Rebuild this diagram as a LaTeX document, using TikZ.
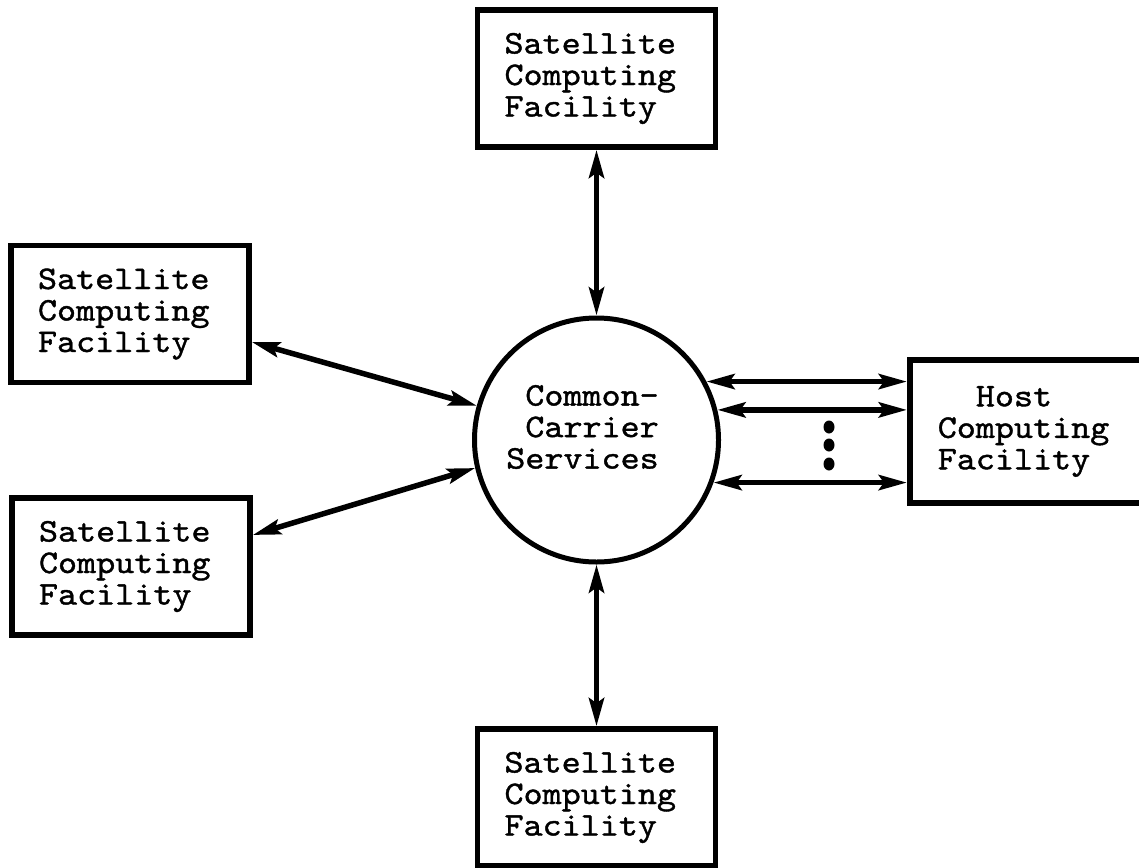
\documentclass[tikz,border=0pt]{standalone}
\usepackage{fontspec}
\newfontfamily\tw{lmmono10-regular}[Extension=.otf, FakeStretch=1.1, FakeBold=1.2]
\usetikzlibrary{arrows.meta, calc}

\begin{document}
\begin{tikzpicture}[x=1pt, y=-1pt,
  lbl/.style={font=\tw\fontsize{33}{31.5}\selectfont},
  satbox/.style={draw, line width=5.5pt, rectangle, inner sep=0pt, lbl,
    align=left, text width=184pt, minimum width=238pt, minimum height=137pt},
  hub/.style={draw, line width=5pt, circle, minimum size=244pt, inner sep=0pt},
  tip/.tip={Stealth[length=28pt, width=15pt, inset=5pt]},
  conn/.style={line width=5.5pt, tip-tip}
]
\useasboundingbox (0,0) rectangle (1139,867);
\clip (0,0) rectangle (1139,867);

% central carrier
\node[hub] (cc) at (596.5,440) {};
\node[lbl, align=right, xshift=-14pt, yshift=13pt] (cctext) at (cc.center)
  {Common-\\Carrier\\Services};

% satellite facilities
\node[satbox] (top) at (596.5,78.5) {Satellite\\Computing\\Facility};
\node[satbox] (bot) at (596.5,797.5) {Satellite\\Computing\\Facility};
\node[satbox] (ul)  at (130,314)    {Satellite\\Computing\\Facility};
\node[satbox] (ll)  at (131,566.5)  {Satellite\\Computing\\Facility};

% host facility (runs off the right edge)
\node[draw, line width=5.5pt, rectangle, lbl, anchor=west, align=left,
      text width=230pt, inner xsep=28pt, inner ysep=0pt, minimum height=143pt]
  (host) at (907,431.5) {\phantom{XX}Host\\Computing\\Facility};

% links
\draw[conn] (top.south) -- (cc.north);
\draw[conn] (cc.south) -- (bot.north);
\draw[conn] ([yshift=-28pt]ul.east) -- (cc.164.5);
\draw[conn] (cc.193.7) -- ([yshift=31.5pt]ll.east);
\draw[conn] (cc.28.4)  -- (cc.28.4  -| host.west);
\draw[conn] (cc.14.2)  -- (cc.14.2  -| host.west);
\draw[conn] (cc.-20.6) -- (cc.-20.6 -| host.west);

% ellipsis between the host links
\fill (829,427) circle[x radius=5.5, y radius=6.5];
\fill (829,445) circle[x radius=5.5, y radius=6.5];
\fill (829,464) circle[x radius=5.5, y radius=6.5];
\end{tikzpicture}
\end{document}
